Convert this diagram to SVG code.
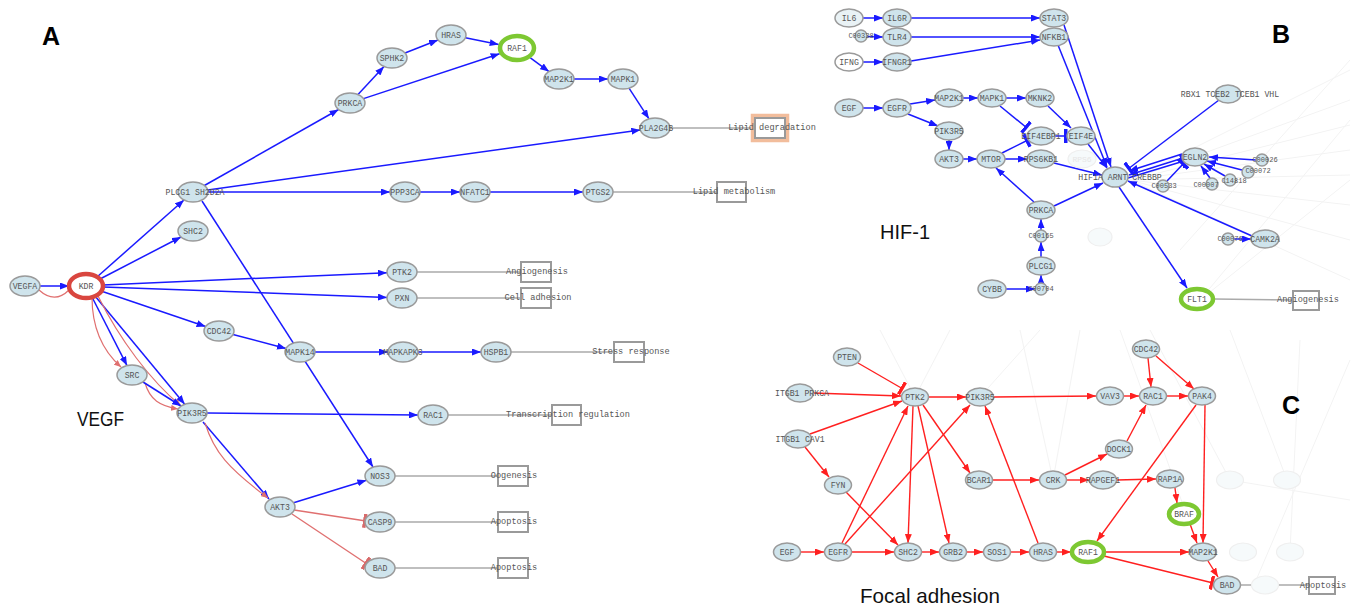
<svg xmlns="http://www.w3.org/2000/svg" width="1356" height="609" viewBox="0 0 1356 609">
<style>
.n{fill:#cfe4ec;stroke:#9a9a9a;stroke-width:1.5}
.f{fill:#f6fafb;stroke:#efefef;stroke-width:1.2}
.t{font-family:"Liberation Mono","DejaVu Sans Mono",monospace;font-size:8.2px;fill:#555;text-anchor:middle;dominant-baseline:central}
.ts{font-family:"Liberation Mono","DejaVu Sans Mono",monospace;font-size:7px;fill:#555;text-anchor:middle;dominant-baseline:central}
.ft{font-family:"Liberation Mono",monospace;font-size:8px;fill:#e6e6e6;text-anchor:middle;dominant-baseline:central}
.bt{font-family:"Liberation Mono","DejaVu Sans Mono",monospace;font-size:8.6px;fill:#555;text-anchor:middle;dominant-baseline:central}
.box{fill:#fff;stroke:#9a9a9a;stroke-width:2}
.eb{stroke:#1a1aff;stroke-width:1.5;fill:none;marker-end:url(#ab)}
.ebt{stroke:#1a1aff;stroke-width:1.5;fill:none;marker-end:url(#tb)}
.er{stroke:#ff2020;stroke-width:1.4;fill:none;marker-end:url(#ar)}
.ert{stroke:#ff2020;stroke-width:1.4;fill:none;marker-end:url(#tr)}
.ep{stroke:#e07070;stroke-width:1.2;fill:none}
.ept{stroke:#e07070;stroke-width:1.3;fill:none;marker-end:url(#tp)}
.g{stroke:#aaa;stroke-width:1.5;fill:none}
.bg{stroke:#f3f3f3;stroke-width:1;fill:none}
.title{font-family:"Liberation Sans",Arial,sans-serif;font-weight:bold;font-size:25px;fill:#000}
.cap{font-family:"Liberation Sans",Arial,sans-serif;font-size:21px;fill:#111}
</style>
<defs>
<marker id="ab" markerUnits="userSpaceOnUse" markerWidth="9" markerHeight="7" refX="9" refY="3.5" orient="auto"><path d="M0,0 L9,3.5 L0,7z" fill="#1a1aff"/></marker>
<marker id="ar" markerUnits="userSpaceOnUse" markerWidth="9" markerHeight="7" refX="9" refY="3.5" orient="auto"><path d="M0,0 L9,3.5 L0,7z" fill="#ff2020"/></marker>
<marker id="ap" markerUnits="userSpaceOnUse" markerWidth="7" markerHeight="6" refX="7" refY="3" orient="auto"><path d="M0,0 L7,3 L0,6z" fill="#e07070"/></marker>
<marker id="tb" markerUnits="userSpaceOnUse" markerWidth="4" markerHeight="14" refX="3" refY="7" orient="auto"><rect x="0" y="0" width="3.5" height="14" fill="#1a1aff"/></marker>
<marker id="tr" markerUnits="userSpaceOnUse" markerWidth="4" markerHeight="14" refX="3" refY="7" orient="auto"><rect x="0" y="0" width="3.5" height="14" fill="#ff2020"/></marker>
<marker id="tp" markerUnits="userSpaceOnUse" markerWidth="4" markerHeight="14" refX="3" refY="7" orient="auto"><rect x="0" y="0" width="3.5" height="14" fill="#d86a6a"/></marker>
</defs>
<rect width="1356" height="609" fill="#fff"/>

<g id="background-faint">
<path class="bg" d="M1130,180 L1350,70 M1130,180 L1350,100 M1130,180 L1350,125 M1130,180 L1350,150 M1130,180 L1350,175 M1130,180 L1350,205 M1130,180 L1350,240 M1130,180 L1350,280 M1200,300 L1350,120 M1200,300 L1350,180 M1180,250 L1350,60"/>
<path class="bg" d="M880,330 L915,397 M950,330 L915,397 M1020,330 L1053,480 M1080,330 L1053,480 M1150,330 L1230,480 M1230,330 L1287,480 M1300,340 L1290,552 M1350,360 L1254,585 M1040,330 L980,397 M1350,500 L1230,480 M1120,330 L1200,552"/>
</g>

<g id="titles">
<text class="title" x="42" y="45">A</text>
<text class="title" x="1272" y="43">B</text>
<text class="title" x="1282" y="414">C</text>
<text class="cap" x="77" y="426" textLength="47" lengthAdjust="spacingAndGlyphs">VEGF</text>
<text class="cap" x="880" y="239" textLength="50" lengthAdjust="spacingAndGlyphs">HIF-1</text>
<text class="cap" x="860" y="603" textLength="140" lengthAdjust="spacingAndGlyphs">Focal adhesion</text>
</g>

<g id="connectors">
<g id="conn-a">
<path class="g" d="M670,128H755 M613,192H717 M417,272H521 M417,298H521 M511,352H614 M448,415H552 M395,476H498 M395,522H498 M395,568H498"/>
<line class="eb" x1="40" y1="286" x2="69" y2="286"/>
<path class="ep" d="M39,290 C50,300 60,299 69,290"/>
<line class="eb" x1="97" y1="277" x2="184" y2="200"/>
<line class="eb" x1="100" y1="279" x2="181" y2="237"/>
<line class="eb" x1="103" y1="285" x2="387" y2="272.7"/>
<line class="eb" x1="103" y1="287" x2="387" y2="297.4"/>
<line class="eb" x1="101" y1="291" x2="205.6" y2="326.5"/>
<line class="eb" x1="92" y1="297" x2="127" y2="365.6"/>
<line class="eb" x1="95" y1="296" x2="184.7" y2="404.2"/>
<path class="ep" d="M92,297 C92,330 104,352 121,367" marker-end="url(#ap)"/>
<path class="ep" d="M98,296 C120,340 150,380 181,406" marker-end="url(#ap)"/>
<path class="ep" d="M145,383 C150,400 160,406 178,409" marker-end="url(#ap)"/>
<line class="eb" x1="143" y1="382" x2="181" y2="406"/>
<line class="eb" x1="233" y1="334.6" x2="286" y2="348.4"/>
<line class="eb" x1="315" y1="352" x2="388" y2="352"/>
<line class="eb" x1="418" y1="352" x2="481" y2="352"/>
<line class="eb" x1="204.4" y1="185.5" x2="338.6" y2="109.5"/>
<line class="eb" x1="358" y1="94.5" x2="384" y2="66.5"/>
<line class="eb" x1="405" y1="53" x2="438" y2="40"/>
<line class="eb" x1="465.4" y1="37.8" x2="498.7" y2="44.4"/>
<line class="eb" x1="363.5" y1="98.6" x2="499.6" y2="53.7"/>
<line class="eb" x1="530.4" y1="57.9" x2="549" y2="71.6"/>
<line class="eb" x1="574" y1="79" x2="608" y2="79"/>
<line class="eb" x1="629" y1="88.2" x2="649" y2="118.8"/>
<line class="eb" x1="207.7" y1="190" x2="640.3" y2="130"/>
<line class="eb" x1="208" y1="192" x2="390" y2="192"/>
<line class="eb" x1="420" y1="192" x2="460" y2="192"/>
<line class="eb" x1="490" y1="192" x2="583" y2="192"/>
<line class="eb" x1="202" y1="201" x2="373" y2="467"/>
<line class="eb" x1="207" y1="413" x2="418" y2="415"/>
<line class="eb" x1="203" y1="422" x2="269" y2="499"/>
<path class="ep" d="M205,423 C214,452 228,468 268,498" marker-end="url(#ap)"/>
<line class="eb" x1="293.6" y1="502.8" x2="366.4" y2="480.2"/>
<line class="ept" x1="294" y1="510" x2="366" y2="521"/>
<line class="ept" x1="292" y1="514" x2="367" y2="564"/>
</g>

<g id="conn-b">
<path class="g" d="M1214,299 L1293,300"/>
<line class="eb" x1="863" y1="18" x2="883" y2="18"/>
<line class="eb" x1="911" y1="18" x2="1040" y2="18"/>
<line class="eb" x1="867" y1="36.5" x2="883" y2="37"/>
<line class="eb" x1="911" y1="37" x2="1040" y2="37"/>
<line class="eb" x1="863" y1="62" x2="883" y2="62"/>
<line class="eb" x1="911" y1="61" x2="1040" y2="40"/>
<line class="eb" x1="1064" y1="25" x2="1111" y2="167"/>
<line class="eb" x1="1058" y1="45" x2="1107" y2="167"/>
<line class="eb" x1="863" y1="108" x2="883" y2="108"/>
<line class="eb" x1="910" y1="104" x2="935" y2="100"/>
<line class="eb" x1="908" y1="114" x2="938" y2="126"/>
<line class="eb" x1="963" y1="98" x2="978" y2="98"/>
<line class="eb" x1="1006" y1="98" x2="1026" y2="98"/>
<line class="eb" x1="1048" y1="106" x2="1071" y2="128"/>
<line class="ebt" x1="1000" y1="106" x2="1027" y2="128"/>
<line class="ebt" x1="1002" y1="153" x2="1028" y2="140"/>
<line class="ebt" x1="1055" y1="136" x2="1067" y2="136"/>
<line class="eb" x1="949" y1="140" x2="949" y2="150"/>
<line class="eb" x1="963" y1="159" x2="977" y2="159"/>
<line class="eb" x1="1005" y1="159" x2="1027" y2="159"/>
<line class="eb" x1="1054" y1="163" x2="1102" y2="175"/>
<line class="eb" x1="1088" y1="144" x2="1107" y2="168"/>
<line class="eb" x1="1034" y1="202" x2="996" y2="168"/>
<line class="eb" x1="1054" y1="206" x2="1103" y2="183"/>
<line class="eb" x1="1041" y1="230" x2="1041" y2="219"/>
<line class="eb" x1="1041" y1="257" x2="1041" y2="242"/>
<line class="eb" x1="1041" y1="283" x2="1041" y2="275"/>
<line class="eb" x1="1006" y1="289" x2="1035" y2="289"/>
<line class="ebt" x1="1219" y1="100" x2="1128" y2="169"/>
<line class="eb" x1="1182" y1="154" x2="1129" y2="171"/>
<line class="eb" x1="1183" y1="158" x2="1129" y2="175"/>
<line class="ebt" x1="1128" y1="178" x2="1184" y2="161"/>
<line class="ebt" x1="1167" y1="181" x2="1184" y2="163"/>
<line class="eb" x1="1256" y1="160" x2="1209" y2="157"/>
<line class="eb" x1="1242" y1="170" x2="1207" y2="161"/>
<line class="eb" x1="1225" y1="176" x2="1204" y2="164"/>
<line class="eb" x1="1210" y1="178" x2="1201" y2="166"/>
<line class="eb" x1="1252" y1="236" x2="1128" y2="181"/>
<line class="eb" x1="1234" y1="239" x2="1251" y2="239"/>
<line class="eb" x1="1119" y1="187" x2="1187" y2="288"/>
</g>

<g id="conn-c">
<path class="g" d="M1241,585 L1309,585"/>
<line class="ert" x1="858" y1="363" x2="903" y2="389"/>
<line class="er" x1="813" y1="393" x2="901" y2="396"/>
<line class="er" x1="810" y1="434" x2="902" y2="401"/>
<line class="er" x1="805" y1="447" x2="829" y2="477"/>
<line class="er" x1="846" y1="492" x2="898" y2="545"/>
<line class="er" x1="801" y1="552" x2="824" y2="552"/>
<line class="er" x1="852" y1="552" x2="894" y2="552"/>
<line class="er" x1="842" y1="543" x2="908" y2="406"/>
<line class="er" x1="845" y1="544" x2="970" y2="405"/>
<line class="er" x1="929" y1="397" x2="966" y2="397"/>
<line class="er" x1="913" y1="406" x2="908" y2="543"/>
<line class="er" x1="918" y1="406" x2="949" y2="543"/>
<line class="er" x1="923" y1="405" x2="970" y2="473"/>
<line class="er" x1="922" y1="552" x2="939" y2="552"/>
<line class="er" x1="967" y1="552" x2="983" y2="552"/>
<line class="er" x1="1011" y1="552" x2="1029" y2="552"/>
<line class="er" x1="1057" y1="552" x2="1071" y2="552"/>
<line class="er" x1="1038" y1="543" x2="985" y2="406"/>
<line class="er" x1="994" y1="397" x2="1096" y2="396"/>
<line class="er" x1="1124" y1="396" x2="1139" y2="396"/>
<line class="er" x1="1167" y1="396" x2="1188" y2="396"/>
<line class="er" x1="1148" y1="358" x2="1151" y2="387"/>
<line class="er" x1="1156" y1="356" x2="1194" y2="389"/>
<line class="er" x1="993" y1="480" x2="1039" y2="480"/>
<line class="er" x1="1065" y1="475" x2="1107" y2="454"/>
<line class="er" x1="1127" y1="441" x2="1146" y2="405"/>
<line class="er" x1="1067" y1="480" x2="1089" y2="480"/>
<line class="er" x1="1117" y1="480" x2="1156" y2="479"/>
<line class="er" x1="1175" y1="488" x2="1177" y2="503"/>
<line class="er" x1="1190" y1="524" x2="1197" y2="543"/>
<line class="er" x1="1196" y1="405" x2="1097" y2="541"/>
<line class="er" x1="1205" y1="405" x2="1203" y2="543"/>
<line class="er" x1="1105" y1="552" x2="1189" y2="552"/>
<line class="ert" x1="1104" y1="556" x2="1213" y2="583"/>
<line class="er" x1="1208" y1="561" x2="1218" y2="577"/>
</g>
</g>

<g id="a-vegfa"><ellipse class="n" cx="25" cy="286" rx="15" ry="10"/><text class="t" x="25" y="286">VEGFA</text></g>
<g id="a-kdr"><ellipse cx="86" cy="286" rx="17" ry="12" fill="#fff" stroke="#d9463f" stroke-width="4.5"/><text class="t" x="86" y="286">KDR</text></g>
<g id="a-plcg1"><ellipse class="n" cx="193" cy="192" rx="15" ry="10"/><text class="t" x="195" y="192">PLCG1 SH2D2A</text></g>
<g id="a-shc2"><ellipse class="n" cx="193" cy="231" rx="15" ry="10"/><text class="t" x="193" y="231">SHC2</text></g>
<g id="a-prkca"><ellipse class="n" cx="350" cy="103" rx="15" ry="10"/><text class="t" x="350" y="103">PRKCA</text></g>
<g id="a-sphk2"><ellipse class="n" cx="392" cy="58" rx="15" ry="10"/><text class="t" x="392" y="58">SPHK2</text></g>
<g id="a-hras"><ellipse class="n" cx="451" cy="35" rx="15" ry="10"/><text class="t" x="451" y="35">HRAS</text></g>
<g id="a-raf1"><ellipse cx="517" cy="48" rx="17" ry="12" fill="#fff" stroke="#7dc832" stroke-width="4.5"/><text class="t" x="517" y="48">RAF1</text></g>
<g id="a-map2k1"><ellipse class="n" cx="559" cy="79" rx="15" ry="10"/><text class="t" x="559" y="79">MAP2K1</text></g>
<g id="a-mapk1"><ellipse class="n" cx="623" cy="79" rx="15" ry="10"/><text class="t" x="623" y="79">MAPK1</text></g>
<g id="a-pla2g4b"><ellipse class="n" cx="655" cy="128" rx="15" ry="10"/><text class="t" x="656" y="128">PLA2G4B</text></g>
<g id="a-ppp3ca"><ellipse class="n" cx="405" cy="192" rx="15" ry="10"/><text class="t" x="405" y="192">PPP3CA</text></g>
<g id="a-nfatc1"><ellipse class="n" cx="475" cy="192" rx="15" ry="10"/><text class="t" x="475" y="192">NFATC1</text></g>
<g id="a-ptgs2"><ellipse class="n" cx="598" cy="192" rx="15" ry="10"/><text class="t" x="598" y="192">PTGS2</text></g>
<g id="a-ptk2"><ellipse class="n" cx="402" cy="272" rx="15" ry="10"/><text class="t" x="402" y="272">PTK2</text></g>
<g id="a-pxn"><ellipse class="n" cx="402" cy="298" rx="15" ry="10"/><text class="t" x="402" y="298">PXN</text></g>
<g id="a-cdc42"><ellipse class="n" cx="219" cy="331" rx="15" ry="10"/><text class="t" x="219" y="331">CDC42</text></g>
<g id="a-mapk14"><ellipse class="n" cx="300" cy="352" rx="15" ry="10"/><text class="t" x="300" y="352">MAPK14</text></g>
<g id="a-mapkapk3"><ellipse class="n" cx="403" cy="352" rx="15" ry="10"/><text class="t" x="403" y="352">MAPKAPK3</text></g>
<g id="a-hspb1"><ellipse class="n" cx="496" cy="352" rx="15" ry="10"/><text class="t" x="496" y="352">HSPB1</text></g>
<g id="a-src"><ellipse class="n" cx="132" cy="375" rx="15" ry="10"/><text class="t" x="132" y="375">SRC</text></g>
<g id="a-pik3r5"><ellipse class="n" cx="192" cy="413" rx="15" ry="10"/><text class="t" x="192" y="413">PIK3R5</text></g>
<g id="a-rac1"><ellipse class="n" cx="433" cy="415" rx="15" ry="10"/><text class="t" x="433" y="415">RAC1</text></g>
<g id="a-nos3"><ellipse class="n" cx="380" cy="476" rx="15" ry="10"/><text class="t" x="380" y="476">NOS3</text></g>
<g id="a-akt3"><ellipse class="n" cx="280" cy="507" rx="15" ry="10"/><text class="t" x="280" y="507">AKT3</text></g>
<g id="a-casp9"><ellipse class="n" cx="380" cy="522" rx="15" ry="10"/><text class="t" x="380" y="522">CASP9</text></g>
<g id="a-bad"><ellipse class="n" cx="380" cy="568" rx="15" ry="10"/><text class="t" x="380" y="568">BAD</text></g>

<g id="a-lipid-deg"><rect x="752.5" y="115.5" width="35" height="25" fill="none" stroke="#f2bd9c" stroke-width="3.5"/><rect class="box" x="755" y="118" width="30" height="20"/><text class="bt" x="772" y="128">Lipid degradation</text></g>
<g id="a-lipid-met"><rect class="box" x="717" y="182" width="29" height="20"/><text class="bt" x="734" y="192">Lipid metabolism</text></g>
<g id="a-angio"><rect class="box" x="521" y="262" width="30" height="20"/><text class="bt" x="537" y="272">Angiogenesis</text></g>
<g id="a-celladh"><rect class="box" x="521" y="288" width="30" height="20"/><text class="bt" x="538" y="298">Cell adhesion</text></g>
<g id="a-stress"><rect class="box" x="614" y="342" width="30" height="20"/><text class="bt" x="631" y="352">Stress response</text></g>
<g id="a-transc"><rect class="box" x="552" y="405" width="29" height="20"/><text class="bt" x="568" y="415">Transcription regulation</text></g>
<g id="a-oogen"><rect class="box" x="498" y="466" width="30" height="20"/><text class="bt" x="514" y="476">Oogenesis</text></g>
<g id="a-apop1"><rect class="box" x="498" y="512" width="30" height="20"/><text class="bt" x="514" y="522">Apoptosis</text></g>
<g id="a-apop2"><rect class="box" x="498" y="558" width="30" height="20"/><text class="bt" x="514" y="568">Apoptosis</text></g>

<g id="b-rps6-faint"><ellipse class="f" cx="1082" cy="159" rx="14" ry="9"/><text class="ft" x="1082" y="159">RPS6</text></g>
<g id="b-faint2"><ellipse class="f" cx="1100" cy="237" rx="12" ry="9"/></g>
<g id="b-il6"><ellipse class="n" cx="849" cy="18" rx="14" ry="9" style="fill:#e9f2f5"/><text class="t" x="849" y="18">IL6</text></g>
<g id="b-il6r"><ellipse class="n" cx="897" cy="18" rx="14" ry="9"/><text class="t" x="897" y="18">IL6R</text></g>
<g id="b-stat3"><ellipse class="n" cx="1054" cy="18" rx="14" ry="9"/><text class="t" x="1054" y="18">STAT3</text></g>
<g id="b-c00338"><circle class="n" cx="861" cy="36" r="6"/><text class="ts" x="861" y="36">C00338</text></g>
<g id="b-tlr4"><ellipse class="n" cx="897" cy="37" rx="14" ry="9"/><text class="t" x="897" y="37">TLR4</text></g>
<g id="b-nfkb1"><ellipse class="n" cx="1054" cy="37" rx="14" ry="9"/><text class="t" x="1054" y="37">NFKB1</text></g>
<g id="b-ifng"><ellipse class="n" cx="849" cy="62" rx="14" ry="9" style="fill:#fff"/><text class="t" x="849" y="62">IFNG</text></g>
<g id="b-ifngr1"><ellipse class="n" cx="897" cy="62" rx="14" ry="9"/><text class="t" x="897" y="62">IFNGR1</text></g>
<g id="b-egf"><ellipse class="n" cx="849" cy="108" rx="14" ry="9"/><text class="t" x="849" y="108">EGF</text></g>
<g id="b-egfr"><ellipse class="n" cx="897" cy="108" rx="14" ry="9"/><text class="t" x="897" y="108">EGFR</text></g>
<g id="b-map2k1"><ellipse class="n" cx="949" cy="98" rx="14" ry="9"/><text class="t" x="949" y="98">MAP2K1</text></g>
<g id="b-mapk1"><ellipse class="n" cx="992" cy="98" rx="14" ry="9"/><text class="t" x="992" y="98">MAPK1</text></g>
<g id="b-mknk2"><ellipse class="n" cx="1040" cy="98" rx="14" ry="9"/><text class="t" x="1040" y="98">MKNK2</text></g>
<g id="b-pik3r5"><ellipse class="n" cx="949" cy="131" rx="14" ry="9"/><text class="t" x="949" y="131">PIK3R5</text></g>
<g id="b-eif4ebp1"><ellipse class="n" cx="1041" cy="136" rx="14" ry="9"/><text class="t" x="1041" y="136">EIF4EBP1</text></g>
<g id="b-eif4e"><ellipse class="n" cx="1081" cy="136" rx="14" ry="9"/><text class="t" x="1081" y="136">EIF4E</text></g>
<g id="b-akt3"><ellipse class="n" cx="949" cy="159" rx="14" ry="9"/><text class="t" x="949" y="159">AKT3</text></g>
<g id="b-mtor"><ellipse class="n" cx="991" cy="159" rx="14" ry="9"/><text class="t" x="991" y="159">MTOR</text></g>
<g id="b-rps6kb1"><ellipse class="n" cx="1041" cy="159" rx="14" ry="9"/><text class="t" x="1041" y="159">RPS6KB1</text></g>
<g id="b-hif1a"><ellipse class="n" cx="1115" cy="177" rx="13" ry="10"/><text class="t" x="1120" y="177">HIF1A ARNT CREBBP</text></g>
<g id="b-prkca"><ellipse class="n" cx="1041" cy="210" rx="14" ry="9"/><text class="t" x="1041" y="210">PRKCA</text></g>
<g id="b-c00165"><circle class="n" cx="1041" cy="236" r="6"/><text class="ts" x="1041" y="236">C00165</text></g>
<g id="b-plcg1"><ellipse class="n" cx="1041" cy="266" rx="14" ry="9"/><text class="t" x="1041" y="266">PLCG1</text></g>
<g id="b-c00704"><circle class="n" cx="1041" cy="289" r="6"/><text class="ts" x="1041" y="289">C00704</text></g>
<g id="b-cybb"><ellipse class="n" cx="992" cy="289" rx="14" ry="9"/><text class="t" x="992" y="289">CYBB</text></g>
<g id="b-vhl"><ellipse class="n" cx="1228" cy="94" rx="13" ry="9"/><text class="t" x="1230" y="94">RBX1 TCEB2 TCEB1 VHL</text></g>
<g id="b-egln2"><ellipse class="n" cx="1195" cy="157" rx="13" ry="9"/><text class="t" x="1195" y="157">EGLN2</text></g>
<g id="b-c00026"><circle class="n" cx="1262" cy="160" r="6"/><text class="ts" x="1265" y="160">C00026</text></g>
<g id="b-c00072"><circle class="n" cx="1248" cy="172" r="6"/><text class="ts" x="1258" y="171">C00072</text></g>
<g id="b-c14818"><circle class="n" cx="1230" cy="180" r="6"/><text class="ts" x="1234" y="181">C14818</text></g>
<g id="b-c00007"><circle class="n" cx="1212" cy="184" r="6"/><text class="ts" x="1206" y="185">C00007</text></g>
<g id="b-c00533"><circle class="n" cx="1163" cy="186" r="6"/><text class="ts" x="1164" y="186">C00533</text></g>
<g id="b-c00076"><circle class="n" cx="1228" cy="239" r="6"/><text class="ts" x="1230" y="239">C00076</text></g>
<g id="b-camk2a"><ellipse class="n" cx="1265" cy="239" rx="14" ry="9"/><text class="t" x="1265" y="239">CAMK2A</text></g>
<g id="b-flt1"><ellipse cx="1197" cy="299" rx="16" ry="10" fill="#fff" stroke="#7dc832" stroke-width="4.5"/><text class="t" x="1197" y="299">FLT1</text></g>
<g id="b-angio"><rect class="box" x="1293" y="291" width="26" height="19"/><text class="bt" x="1308" y="300">Angiogenesis</text></g>

<g id="c-faint"><ellipse class="f" cx="1230" cy="480" rx="13.5" ry="9"/><ellipse class="f" cx="1287" cy="480" rx="13.5" ry="9"/><ellipse class="f" cx="1243" cy="552" rx="13.5" ry="9"/><ellipse class="f" cx="1290" cy="552" rx="13.5" ry="9"/><ellipse class="f" cx="1265" cy="585" rx="13.5" ry="9"/></g>
<g id="c-pten"><ellipse class="n" cx="847" cy="357" rx="13.5" ry="9"/><text class="t" x="847" y="357">PTEN</text></g>
<g id="c-itgb1-prkca"><ellipse class="n" cx="800" cy="393" rx="13.5" ry="9"/><text class="t" x="802" y="393">ITGB1 PRKCA</text></g>
<g id="c-itgb1-cav1"><ellipse class="n" cx="798" cy="439" rx="13.5" ry="9"/><text class="t" x="800" y="439">ITGB1 CAV1</text></g>
<g id="c-fyn"><ellipse class="n" cx="838" cy="485" rx="13.5" ry="9"/><text class="t" x="838" y="485">FYN</text></g>
<g id="c-ptk2"><ellipse class="n" cx="915" cy="397" rx="13.5" ry="9"/><text class="t" x="915" y="397">PTK2</text></g>
<g id="c-pik3r5"><ellipse class="n" cx="980" cy="397" rx="13.5" ry="9"/><text class="t" x="980" y="397">PIK3R5</text></g>
<g id="c-bcar1"><ellipse class="n" cx="979" cy="480" rx="13.5" ry="9"/><text class="t" x="979" y="480">BCAR1</text></g>
<g id="c-crk"><ellipse class="n" cx="1053" cy="480" rx="13.5" ry="9"/><text class="t" x="1053" y="480">CRK</text></g>
<g id="c-egf"><ellipse class="n" cx="787" cy="552" rx="13.5" ry="9"/><text class="t" x="787" y="552">EGF</text></g>
<g id="c-egfr"><ellipse class="n" cx="838" cy="552" rx="13.5" ry="9"/><text class="t" x="838" y="552">EGFR</text></g>
<g id="c-shc2"><ellipse class="n" cx="908" cy="552" rx="13.5" ry="9"/><text class="t" x="908" y="552">SHC2</text></g>
<g id="c-grb2"><ellipse class="n" cx="953" cy="552" rx="13.5" ry="9"/><text class="t" x="953" y="552">GRB2</text></g>
<g id="c-sos1"><ellipse class="n" cx="997" cy="552" rx="13.5" ry="9"/><text class="t" x="997" y="552">SOS1</text></g>
<g id="c-hras"><ellipse class="n" cx="1043" cy="552" rx="13.5" ry="9"/><text class="t" x="1043" y="552">HRAS</text></g>
<g id="c-raf1"><ellipse cx="1088" cy="552" rx="16" ry="10" fill="#fff" stroke="#7dc832" stroke-width="4.5"/><text class="t" x="1088" y="552">RAF1</text></g>
<g id="c-map2k1"><ellipse class="n" cx="1203" cy="552" rx="13.5" ry="9"/><text class="t" x="1203" y="552">MAP2K1</text></g>
<g id="c-bad"><ellipse class="n" cx="1227" cy="585" rx="13.5" ry="9"/><text class="t" x="1227" y="585">BAD</text></g>
<g id="c-braf"><ellipse cx="1184" cy="514" rx="15" ry="10" fill="#fff" stroke="#7dc832" stroke-width="4.5"/><text class="t" x="1184" y="514">BRAF</text></g>
<g id="c-rap1a"><ellipse class="n" cx="1170" cy="479" rx="13.5" ry="9"/><text class="t" x="1170" y="479">RAP1A</text></g>
<g id="c-rapgef1"><ellipse class="n" cx="1103" cy="480" rx="13.5" ry="9"/><text class="t" x="1103" y="480">RAPGEF1</text></g>
<g id="c-dock1"><ellipse class="n" cx="1119" cy="449" rx="13.5" ry="9"/><text class="t" x="1119" y="449">DOCK1</text></g>
<g id="c-vav3"><ellipse class="n" cx="1110" cy="396" rx="13.5" ry="9"/><text class="t" x="1110" y="396">VAV3</text></g>
<g id="c-rac1"><ellipse class="n" cx="1153" cy="396" rx="13.5" ry="9"/><text class="t" x="1153" y="396">RAC1</text></g>
<g id="c-pak4"><ellipse class="n" cx="1202" cy="396" rx="13.5" ry="9"/><text class="t" x="1202" y="396">PAK4</text></g>
<g id="c-cdc42"><ellipse class="n" cx="1146" cy="349" rx="13.5" ry="9"/><text class="t" x="1146" y="349">CDC42</text></g>
<g id="c-apop"><rect class="box" x="1309" y="577" width="26" height="17"/><text class="bt" x="1323" y="585.5">Apoptosis</text></g>
</svg>
